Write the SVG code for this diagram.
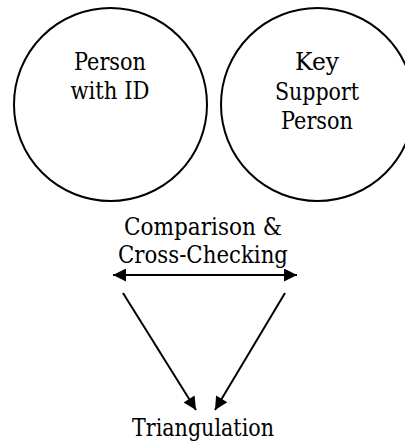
<svg xmlns="http://www.w3.org/2000/svg" width="405" height="445" viewBox="0 0 405 445">
<defs>
<style>
.node circle{fill:#fff;stroke:#000;stroke-width:2}
.conn line{stroke:#000;stroke-width:2}
.t{font-family:'DejaVu Serif','Noto Serif',serif;font-size:24.5px;text-anchor:middle;fill:#000}
</style>
<marker id="ah" viewBox="0 0 10 10" refX="10" refY="5" markerWidth="15" markerHeight="13" markerUnits="userSpaceOnUse" orient="auto-start-reverse">
<path d="M0,0 L10,5 L0,10 Z" fill="#000"/>
</marker>
</defs>
<rect width="405" height="445" fill="#fff"/>
<g id="person-with-id" class="node">
<circle cx="110.5" cy="104.5" r="96.5"/>
<text class="t" x="110" y="70" textLength="72" lengthAdjust="spacingAndGlyphs">Person</text>
<text class="t" x="110" y="99" textLength="79" lengthAdjust="spacingAndGlyphs">with ID</text>
</g>
<g id="key-support-person" class="node">
<circle cx="317.5" cy="104.5" r="96.5"/>
<text class="t" x="317" y="70" textLength="44" lengthAdjust="spacingAndGlyphs">Key</text>
<text class="t" x="317" y="99.5" textLength="84" lengthAdjust="spacingAndGlyphs">Support</text>
<text class="t" x="317" y="129" textLength="72" lengthAdjust="spacingAndGlyphs">Person</text>
</g>
<g id="comparison" class="node">
<text class="t" x="203" y="235" textLength="158" lengthAdjust="spacingAndGlyphs">Comparison &amp;</text>
<text class="t" x="203" y="263" textLength="170" lengthAdjust="spacingAndGlyphs">Cross-Checking</text>
</g>
<g id="triangulation" class="node">
<text class="t" x="203" y="436" textLength="142" lengthAdjust="spacingAndGlyphs">Triangulation</text>
</g>
<g id="connectors" class="conn">
<line x1="113" y1="275" x2="297" y2="275" marker-start="url(#ah)" marker-end="url(#ah)"/>
<line x1="123" y1="293" x2="196" y2="410" marker-end="url(#ah)"/>
<line x1="285" y1="293" x2="215" y2="410" marker-end="url(#ah)"/>
</g>
</svg>
